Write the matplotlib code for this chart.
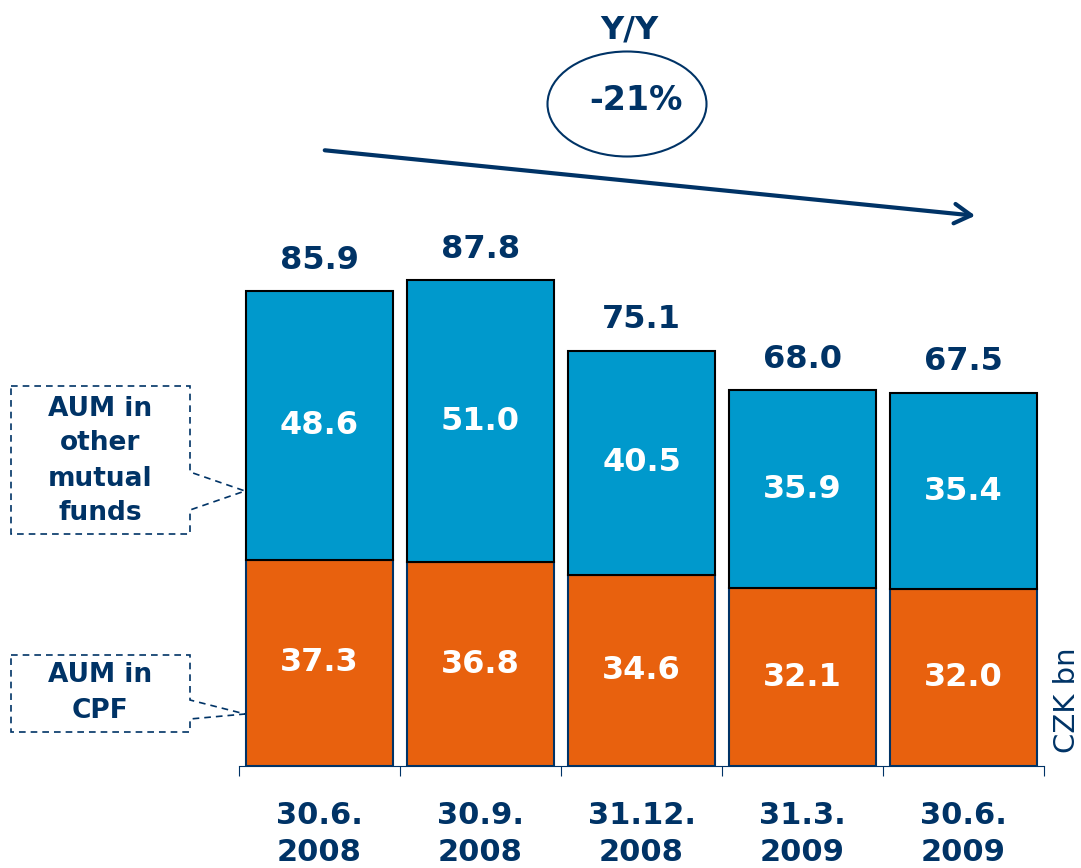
import numpy as np
import matplotlib
matplotlib.use("Agg")
import matplotlib.pyplot as plt
from matplotlib.patches import Ellipse, Polygon, FancyArrowPatch

# data
dates = ["30.6.\n2008", "30.9.\n2008", "31.12.\n2008", "31.3.\n2009", "30.6.\n2009"]
cpf = [37.3, 36.8, 34.6, 32.1, 32.0]
other_funds = [48.6, 51.0, 40.5, 35.9, 35.4]
totals = [85.9, 87.8, 75.1, 68.0, 67.5]

NAVY = "#003366"
BLUE = "#0099CC"
ORANGE = "#E8610E"

W, H = 1081, 868
fig = plt.figure(figsize=(W / 100, H / 100), dpi=100)
plt.rcParams["font.family"] = "DejaVu Sans"


def fx(px):
    return px / W


def fy(py):
    return 1 - py / H


# axes placed so the baseline sits at y=766 px and the scale is ~5.53 px per unit
ax_bottom = 766
ax_top = 200
ax = fig.add_axes([fx(239), fy(ax_bottom), fx(1044) - fx(239), (ax_bottom - ax_top) / H])
ax.set_xlim(-0.5, len(dates) - 0.5)
ax.set_ylim(0, (ax_bottom - ax_top) / 5.53)

x = np.arange(len(dates))
width = 0.907
ax.bar(x, cpf, width, color=ORANGE, edgecolor=NAVY, linewidth=1.5)
ax.bar(x, other_funds, width, bottom=cpf, color=BLUE, edgecolor="black", linewidth=1.5)

# value labels
for i in range(len(dates)):
    ax.text(x[i], cpf[i] / 2, f"{cpf[i]:.1f}", ha="center", va="center",
            color="white", fontsize=23, fontweight="bold")
    ax.text(x[i], cpf[i] + other_funds[i] / 2, f"{other_funds[i]:.1f}", ha="center",
            va="center", color="white", fontsize=23, fontweight="bold")
    ax.annotate(f"{totals[i]:.1f}", (x[i], totals[i]), xytext=(0, 11),
                textcoords="offset points", ha="center", va="bottom",
                color=NAVY, fontsize=23, fontweight="bold", annotation_clip=False)

# axis styling
for s in ["top", "right", "left"]:
    ax.spines[s].set_visible(False)
ax.spines["bottom"].set_color(NAVY)
ax.spines["bottom"].set_linewidth(0.8)
ax.set_yticks([])
ax.set_xticks(x)
ax.set_xticklabels(dates, fontsize=22, fontweight="bold", color=NAVY, linespacing=1.35)
ax.set_xticks(np.arange(len(dates) + 1) - 0.5, minor=True)
ax.tick_params(axis="x", which="major", length=0, pad=25)
ax.tick_params(axis="x", which="minor", length=7.5, color=NAVY, width=0.8)

# unit label
fig.text(fx(1067), fy(700), "CZK bn", rotation=90, ha="center", va="center",
         color=NAVY, fontsize=21)

# callout boxes
def callout(pts, label, cy):
    poly = Polygon([(fx(a), fy(b)) for a, b in pts], closed=True, fill=False,
                   edgecolor=NAVY, linestyle=(0, (4, 3)), linewidth=1.2,
                   transform=fig.transFigure)
    fig.add_artist(poly)
    fig.text(fx(100), fy(cy), label, ha="center", va="center", color=NAVY,
             fontsize=19, fontweight="bold", linespacing=1.45)


callout([(11, 386), (190, 386), (190, 472), (245, 491), (190, 510),
         (190, 534), (11, 534)], "AUM in\nother\nmutual\nfunds", 461)
callout([(11, 655), (190, 655), (190, 700), (245, 714), (190, 719),
         (190, 732), (11, 732)], "AUM in\nCPF", 693)

# Y/Y annotation
fig.text(fx(629), fy(30), "Y/Y", ha="center", va="center", color=NAVY,
         fontsize=23, fontweight="bold")
fig.add_artist(Ellipse((fx(627), fy(104)), fx(159), 105 / H, fill=False,
                       edgecolor=NAVY, linewidth=1.5, transform=fig.transFigure))
fig.text(fx(636), fy(101), "-21%", ha="center", va="center", color=NAVY,
         fontsize=24, fontweight="bold")
fig.add_artist(FancyArrowPatch((fx(322), fy(150)), (fx(978), fy(216)),
                               transform=fig.transFigure, arrowstyle="->,head_length=12,head_width=7",
                               color=NAVY, linewidth=3, mutation_scale=1))

fig.savefig("out.png", dpi=100)
